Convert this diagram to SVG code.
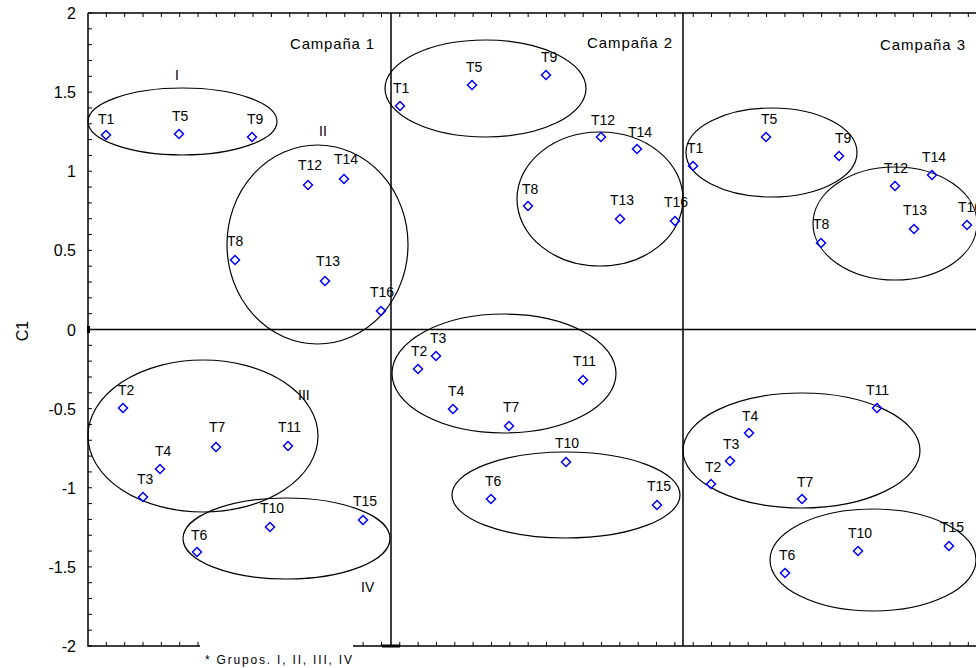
<svg xmlns="http://www.w3.org/2000/svg" xmlns:xlink="http://www.w3.org/1999/xlink" width="976" height="668" viewBox="0 0 976 668">
<style>
text{font-family:"Liberation Sans",Arial,sans-serif;fill:#000}
.lbl{font-size:14px}
.tick{font-size:16px;text-anchor:end}
.camp{font-size:15px}
.grp{font-size:14px}
.ax{stroke:#000;stroke-width:1.5;fill:none}
.tk{stroke:#000;stroke-width:1;fill:none}
.el{stroke:#000;stroke-width:1.2;fill:none}
</style>
<defs>
<path id="m" d="M0 -4.5L4.5 0L0 4.5L-4.5 0Z" fill="none" stroke="#0000ff" stroke-width="1.5"/>
</defs>
<rect width="976" height="668" fill="#fff"/>
<g id="axes">
<path class="ax" d="M88 13V646H200M353 646H976M88 13H976M88 329.5H976M391 13V646M683 13V646"/>
<path class="tk" d="M88 13h4m-4 15.825h4m-4 15.825h4m-4 15.825h4m-4 15.825h4m-4 15.825h4m-4 15.825h4m-4 15.825h4m-4 15.825h4m-4 15.825h4m-4 15.825h4m-4 15.825h4m-4 15.825h4m-4 15.825h4m-4 15.825h4m-4 15.825h4m-4 15.825h4m-4 15.825h4m-4 15.825h4m-4 15.825h4m-4 15.825h4m-4 15.825h4m-4 15.825h4m-4 15.825h4m-4 15.825h4m-4 15.825h4m-4 15.825h4m-4 15.825h4m-4 15.825h4m-4 15.825h4m-4 15.825h4m-4 15.825h4m-4 15.825h4m-4 15.825h4m-4 15.825h4m-4 15.825h4m-4 15.825h4m-4 15.825h4m-4 15.825h4m-4 15.825h4m-4 15.825h4"/>
<path class="tk" d="M106.34 13v4m18.34 -4v4m18.34 -4v4m18.34 -4v4m18.34 -4v4m18.34 -4v4m18.34 -4v4m18.34 -4v4m18.34 -4v4m18.34 -4v4m18.34 -4v4m18.34 -4v4m18.34 -4v4m18.34 -4v4m18.34 -4v4m18.34 -4v4m18.34 -4v4m18.34 -4v4m18.34 -4v4m18.34 -4v4m18.34 -4v4m18.34 -4v4m18.34 -4v4m18.34 -4v4m18.34 -4v4m18.34 -4v4m18.34 -4v4m18.34 -4v4m18.34 -4v4m18.34 -4v4m18.34 -4v4m18.34 -4v4m18.34 -4v4m18.34 -4v4m18.34 -4v4m18.34 -4v4m18.34 -4v4m18.34 -4v4m18.34 -4v4m18.34 -4v4m18.34 -4v4m18.34 -4v4m18.34 -4v4m18.34 -4v4m18.34 -4v4m18.34 -4v4m18.34 -4v4m18.34 -4v4"/>
<path class="tk" d="M106.34 646v-4m18.34 4v-4m18.34 4v-4m18.34 4v-4m18.34 4v-4m18.34 4v-4"/>
<path class="tk" d="M363.1 646v-4m18.34 4v-4m18.34 4v-4m18.34 4v-4m18.34 4v-4m18.34 4v-4m18.34 4v-4m18.34 4v-4m18.34 4v-4m18.34 4v-4m18.34 4v-4m18.34 4v-4m18.34 4v-4m18.34 4v-4m18.34 4v-4m18.34 4v-4m18.34 4v-4m18.34 4v-4m18.34 4v-4m18.34 4v-4m18.34 4v-4m18.34 4v-4m18.34 4v-4m18.34 4v-4m18.34 4v-4m18.34 4v-4m18.34 4v-4m18.34 4v-4m18.34 4v-4m18.34 4v-4m18.34 4v-4m18.34 4v-4m18.34 4v-4m18.34 4v-4"/>
<rect x="382" y="644.5" width="18" height="3" fill="#000"/>
<rect x="87" y="326" width="3" height="7" fill="#000"/>
<text class="tick" x="76" y="19">2</text>
<text class="tick" x="76" y="98">1.5</text>
<text class="tick" x="76" y="177">1</text>
<text class="tick" x="76" y="256">0.5</text>
<text class="tick" x="76" y="336">0</text>
<text class="tick" x="76" y="415">-0.5</text>
<text class="tick" x="76" y="494">-1</text>
<text class="tick" x="76" y="573">-1.5</text>
<text class="tick" x="76" y="652">-2</text>
<text x="0" y="0" transform="translate(28 331) rotate(-90)" style="font-size:16px;text-anchor:middle">C1</text>
<text x="205" y="664" style="font-size:12px" textLength="147">* Grupos. I, II, III, IV</text>
</g>
<g id="titles">
<text class="camp" x="290" y="49" textLength="84">Campaña 1</text>
<text class="camp" x="587" y="48" textLength="85">Campaña 2</text>
<text class="camp" x="880" y="50" textLength="85">Campaña 3</text>
</g>
<g id="connectors">
<ellipse id="e-c1-I" class="el" cx="182.5" cy="121.5" rx="94.5" ry="33.5"/>
<ellipse id="e-c1-II" class="el" cx="317.5" cy="244.5" rx="90.5" ry="99.5"/>
<ellipse id="e-c1-III" class="el" cx="203" cy="436" rx="115" ry="76"/>
<ellipse id="e-c1-IV" class="el" cx="286.5" cy="538.5" rx="103.5" ry="40.5"/>
<ellipse id="e-c2-I" class="el" cx="485.5" cy="88.5" rx="100.5" ry="48.5"/>
<ellipse id="e-c2-II" class="el" cx="600" cy="199" rx="83" ry="67"/>
<ellipse id="e-c2-III" class="el" cx="504" cy="373.5" rx="112" ry="59.5"/>
<ellipse id="e-c2-IV" class="el" cx="566" cy="495" rx="114" ry="43"/>
<ellipse id="e-c3-I" class="el" cx="771.5" cy="152.5" rx="85.5" ry="44.5"/>
<ellipse id="e-c3-II" class="el" cx="895" cy="223.5" rx="82" ry="56.5"/>
<ellipse id="e-c3-III" class="el" cx="801.5" cy="450.5" rx="118.5" ry="57.5"/>
<ellipse id="e-c3-IV" class="el" cx="873" cy="560" rx="103" ry="51"/>
</g>
<g id="group-labels">
<text class="grp" x="175" y="80">I</text>
<text class="grp" x="319" y="136">II</text>
<text class="grp" x="298" y="400">III</text>
<text class="grp" x="361" y="592">IV</text>
</g>
<g id="c1">
<g id="c1-T1"><use xlink:href="#m" x="106" y="135"/><text class="lbl" x="98" y="124">T1</text></g>
<g id="c1-T5"><use xlink:href="#m" x="179" y="134"/><text class="lbl" x="172" y="121">T5</text></g>
<g id="c1-T9"><use xlink:href="#m" x="252" y="137"/><text class="lbl" x="247" y="124">T9</text></g>
<g id="c1-T12"><use xlink:href="#m" x="308" y="185"/><text class="lbl" x="298" y="170">T12</text></g>
<g id="c1-T14"><use xlink:href="#m" x="344" y="179"/><text class="lbl" x="334" y="164">T14</text></g>
<g id="c1-T8"><use xlink:href="#m" x="235" y="260"/><text class="lbl" x="227" y="246">T8</text></g>
<g id="c1-T13"><use xlink:href="#m" x="325" y="281"/><text class="lbl" x="316" y="266">T13</text></g>
<g id="c1-T16"><use xlink:href="#m" x="381" y="311"/><text class="lbl" x="370" y="297">T16</text></g>
<g id="c1-T2"><use xlink:href="#m" x="123" y="408"/><text class="lbl" x="118" y="395">T2</text></g>
<g id="c1-T4"><use xlink:href="#m" x="160" y="469"/><text class="lbl" x="155" y="456">T4</text></g>
<g id="c1-T3"><use xlink:href="#m" x="143" y="497"/><text class="lbl" x="137" y="484">T3</text></g>
<g id="c1-T7"><use xlink:href="#m" x="216" y="447"/><text class="lbl" x="209" y="432">T7</text></g>
<g id="c1-T11"><use xlink:href="#m" x="288" y="446"/><text class="lbl" x="278" y="432">T11</text></g>
<g id="c1-T10"><use xlink:href="#m" x="270" y="527"/><text class="lbl" x="260" y="513">T10</text></g>
<g id="c1-T6"><use xlink:href="#m" x="197" y="552"/><text class="lbl" x="191" y="540">T6</text></g>
<g id="c1-T15"><use xlink:href="#m" x="363" y="520"/><text class="lbl" x="353" y="506">T15</text></g>
</g>
<g id="c2">
<g id="c2-T1"><use xlink:href="#m" x="400" y="106"/><text class="lbl" x="393" y="93">T1</text></g>
<g id="c2-T5"><use xlink:href="#m" x="472" y="85"/><text class="lbl" x="466" y="72">T5</text></g>
<g id="c2-T9"><use xlink:href="#m" x="546" y="75"/><text class="lbl" x="541" y="62">T9</text></g>
<g id="c2-T12"><use xlink:href="#m" x="601" y="137"/><text class="lbl" x="591" y="125">T12</text></g>
<g id="c2-T14"><use xlink:href="#m" x="637" y="149"/><text class="lbl" x="628" y="137">T14</text></g>
<g id="c2-T8"><use xlink:href="#m" x="528" y="206"/><text class="lbl" x="522" y="194">T8</text></g>
<g id="c2-T13"><use xlink:href="#m" x="620" y="219"/><text class="lbl" x="610" y="205">T13</text></g>
<g id="c2-T16"><use xlink:href="#m" x="675" y="221"/><text class="lbl" x="664" y="207">T16</text></g>
<g id="c2-T2"><use xlink:href="#m" x="418" y="369"/><text class="lbl" x="411" y="356">T2</text></g>
<g id="c2-T3"><use xlink:href="#m" x="436" y="356"/><text class="lbl" x="430" y="343">T3</text></g>
<g id="c2-T4"><use xlink:href="#m" x="453" y="409"/><text class="lbl" x="448" y="396">T4</text></g>
<g id="c2-T7"><use xlink:href="#m" x="509" y="426"/><text class="lbl" x="503" y="412">T7</text></g>
<g id="c2-T11"><use xlink:href="#m" x="583" y="380"/><text class="lbl" x="573" y="366">T11</text></g>
<g id="c2-T10"><use xlink:href="#m" x="566" y="462"/><text class="lbl" x="555" y="448">T10</text></g>
<g id="c2-T6"><use xlink:href="#m" x="491" y="499"/><text class="lbl" x="485" y="486">T6</text></g>
<g id="c2-T15"><use xlink:href="#m" x="657" y="505"/><text class="lbl" x="647" y="491">T15</text></g>
</g>
<g id="c3">
<g id="c3-T1"><use xlink:href="#m" x="693" y="166"/><text class="lbl" x="687" y="153">T1</text></g>
<g id="c3-T5"><use xlink:href="#m" x="766" y="137"/><text class="lbl" x="761" y="124">T5</text></g>
<g id="c3-T9"><use xlink:href="#m" x="839" y="156"/><text class="lbl" x="835" y="143">T9</text></g>
<g id="c3-T12"><use xlink:href="#m" x="895" y="186"/><text class="lbl" x="884" y="173">T12</text></g>
<g id="c3-T14"><use xlink:href="#m" x="932" y="175"/><text class="lbl" x="922" y="162">T14</text></g>
<g id="c3-T8"><use xlink:href="#m" x="821" y="243"/><text class="lbl" x="813" y="229">T8</text></g>
<g id="c3-T13"><use xlink:href="#m" x="914" y="229"/><text class="lbl" x="903" y="215">T13</text></g>
<g id="c3-T16"><use xlink:href="#m" x="967" y="225"/><text class="lbl" x="958" y="212">T16</text></g>
<g id="c3-T11"><use xlink:href="#m" x="877" y="408"/><text class="lbl" x="866" y="395">T11</text></g>
<g id="c3-T4"><use xlink:href="#m" x="749" y="433"/><text class="lbl" x="742" y="421">T4</text></g>
<g id="c3-T3"><use xlink:href="#m" x="730" y="461"/><text class="lbl" x="723" y="449">T3</text></g>
<g id="c3-T2"><use xlink:href="#m" x="711" y="484"/><text class="lbl" x="705" y="472">T2</text></g>
<g id="c3-T7"><use xlink:href="#m" x="802" y="499"/><text class="lbl" x="797" y="487">T7</text></g>
<g id="c3-T10"><use xlink:href="#m" x="858" y="551"/><text class="lbl" x="848" y="538">T10</text></g>
<g id="c3-T6"><use xlink:href="#m" x="785" y="573"/><text class="lbl" x="779" y="560">T6</text></g>
<g id="c3-T15"><use xlink:href="#m" x="949" y="546"/><text class="lbl" x="940" y="532">T15</text></g>
</g>
</svg>
